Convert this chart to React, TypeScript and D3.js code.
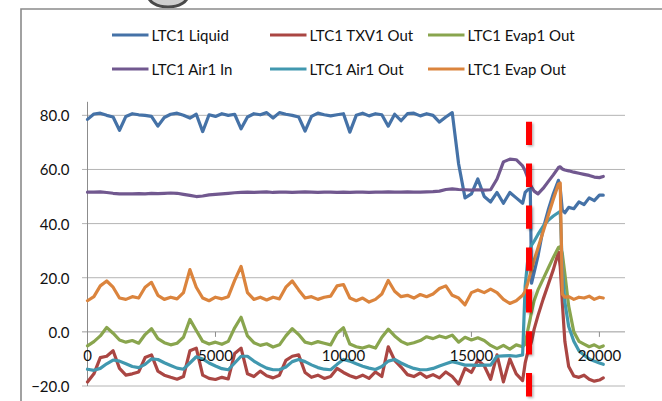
import React from 'react';
import * as d3 from 'd3';

const width = 662;
const height = 401;
const plot = { left: 87.5, right: 625, top: 101.8, bottom: 386 };

// time axis: regular samples then a denser stretch around the event
const baseTime = d3.range(0, 17001, 250);
const tailTime = [17100, 17200, 17300, 17350, 17450, 17600, 17800, 18000, 18200, 18400, 18470,
  18550, 18650, 18800, 19000, 19200, 19400, 19600, 19800, 20000, 20150];
const time = [...baseTime, ...tailTime];

const liquid = [
  78.5, 80.5, 80.8, 80.0, 79.4, 74.5, 79.6, 80.6, 80.2, 80.0,
  79.6, 76.0, 79.2, 80.4, 80.8, 80.0, 79.0, 80.4, 74.0, 80.2,
  79.6, 80.6, 80.0, 80.4, 75.0, 79.4, 80.6, 80.2, 81.0, 79.0,
  81.0, 80.4, 80.0, 79.4, 74.2, 79.6, 80.8, 80.2, 79.8, 80.2,
  80.6, 73.8, 80.0, 80.8, 79.8, 80.6, 80.2, 76.0, 80.4, 78.0,
  80.6, 80.8, 79.8, 80.6, 80.0, 77.5, 79.4, 81.0, 62.0, 49.5,
  51.0, 56.5, 50.0, 48.0, 51.5, 47.5, 51.5, 49.5, 47.5,
  51.5, 52.5, 52.8, 18.0, 22.0, 28.0, 38.0, 45.0, 51.0, 56.0, 53.0,
  45.0, 44.0, 46.0, 45.5, 48.0, 47.0, 49.5, 48.5, 50.5, 50.5,
];
const txv1Out = [
  -18.5, -15.5, -9.5, -9.0, -7.0, -13.5, -16.0, -15.5, -14.8, -9.5,
  -8.5, -14.5, -16.0, -16.8, -17.5, -16.5, -7.0, -6.0, -16.0, -17.2,
  -17.6, -16.8, -17.4, -8.0, -6.0, -15.5, -16.5, -14.5, -16.2, -17.0,
  -16.0, -10.5, -9.0, -8.5, -15.0, -16.8, -16.0, -17.2, -16.5, -13.5,
  -15.0, -16.2, -17.0, -16.0, -17.2, -14.8, -16.5, -5.5, -10.5, -13.0,
  -15.8, -16.5, -15.2, -16.8, -15.8, -17.0, -14.8, -16.5, -19.3, -13.5,
  -15.0, -10.5, -12.5, -17.5, -8.5, -18.5, -10.0, -15.5, -18.0,
  -11.5, -7.5, -5.0, -3.5, 1.0, 6.0, 12.0, 17.5, 23.0, 29.5, 24.0,
  11.0, -3.5, -12.8, -16.3, -16.8, -16.0, -17.5, -18.2, -17.8, -17.0,
];
const evap1Out = [
  -5.2, -3.6, -1.5, 1.6, -0.5, -3.0, -3.8, -3.2, -4.2, -1.0,
  1.2, -2.5, -4.0, -4.8, -4.2, -2.0, 4.6, 0.5, -3.5, -4.5,
  -3.8, -4.6, -3.5, 1.5, 5.4, -1.5, -4.0, -5.0, -4.4, -5.6,
  -4.8, -1.5, 1.2, -1.0, -3.8, -4.4, -3.6, -4.2, -4.8, -0.5,
  1.5, -4.5, -5.5, -6.0, -5.2, -6.0, -2.0, 1.0, -1.5, -3.5,
  -4.6, -4.0, -3.2, -1.8, -2.5, -1.5, -2.2, -1.2, -3.8, -2.0,
  -3.0, -2.2, -3.2, -5.0, -6.2, -5.0, -6.4, -4.8, -5.5,
  -4.5, 0.5, 5.0, 7.5, 11.5, 15.5, 19.5, 23.5, 27.5, 31.2, 31.5,
  29.0, 21.5, 9.5, 0.0, -3.5, -4.5, -5.5, -4.8, -5.8, -5.2,
];
const air1In = [
  51.6, 51.6, 51.7, 51.5, 51.2, 51.0, 51.0, 51.0, 51.1, 51.0,
  51.2, 51.1, 51.2, 51.3, 51.2, 50.8, 50.4, 50.0, 50.2, 50.6,
  50.8, 51.0, 51.2, 51.4, 51.5, 51.6, 51.5, 51.6, 51.7, 51.5,
  51.6, 51.6, 51.5, 51.6, 51.7, 51.6, 51.5, 51.6, 51.6, 51.5,
  51.6, 51.5, 51.6, 51.6, 51.5, 51.6, 51.6, 51.7, 51.6, 51.6,
  51.7, 51.6, 51.6, 51.7, 51.8, 52.0, 52.6, 52.8, 52.6, 52.5,
  52.4, 52.5, 52.4, 52.5, 56.5, 62.8, 63.8, 63.6, 61.3,
  59.5, 57.0, 54.5, 53.5, 52.0, 51.0, 53.0, 55.5, 58.0, 60.7, 61.0,
  60.2, 59.8, 59.5, 59.0, 58.6, 58.2, 57.8, 57.2, 57.0, 57.4,
];
const air1Out = [
  -13.8, -14.2, -13.5, -11.8, -10.4, -10.8, -11.8, -12.8, -13.2, -12.0,
  -10.0, -10.2, -11.4, -12.4, -13.4, -13.8, -11.5, -9.2, -10.0, -11.5,
  -12.6, -13.6, -14.0, -11.5, -9.0, -9.0, -10.8, -12.2, -13.4, -14.0,
  -14.0, -13.0, -11.0, -10.2, -11.0, -12.2, -13.2, -13.8, -14.0, -12.0,
  -10.2, -10.8, -11.8, -12.7, -13.4, -13.9, -12.8, -10.8, -10.2, -11.5,
  -12.6, -13.5, -14.0, -14.0, -13.5, -12.6, -11.8, -11.0, -11.6, -12.3,
  -12.3, -12.4, -12.3, -12.3, -9.0, -8.9, -8.8, -9.0, -8.5,
  17.0, 26.5, 30.5, 32.0, 33.5, 36.0, 39.0, 41.2, 42.8, 44.1, 44.5,
  24.0, 11.0, 2.0, -3.5, -7.0, -8.6, -10.0, -10.8, -11.5, -12.0,
];
const evapOut = [
  11.5, 13.0, 17.0, 18.8, 16.5, 12.5, 12.0, 13.0, 12.5, 16.5,
  18.3, 13.5, 12.0, 12.8, 12.2, 14.5, 23.0, 16.5, 12.5, 11.5,
  12.8, 12.2, 13.0, 19.0, 24.2, 14.5, 12.0, 12.8, 11.8, 12.8,
  12.2, 16.5, 18.8, 15.5, 12.5, 13.0, 12.0, 12.8, 13.2, 17.0,
  17.5, 12.5, 11.5, 12.5, 11.0, 12.0, 14.0, 19.0, 15.0, 13.0,
  13.5, 12.5, 13.8, 13.0, 14.0, 16.0, 17.0, 13.5, 12.5, 10.0,
  14.5, 15.5, 14.5, 15.8, 14.5, 12.0, 10.5, 11.5, 13.5,
  15.0, 18.0, 21.5, 23.0, 26.5, 31.0, 37.0, 43.0, 49.0, 54.6, 55.0,
  14.0, 12.8, 13.0, 12.0, 12.8, 12.5, 13.2, 12.0, 12.8, 12.5,
];

const seriesNames = ['LTC1 Liquid', 'LTC1 TXV1 Out', 'LTC1 Evap1 Out', 'LTC1 Air1 In', 'LTC1 Air1 Out', 'LTC1 Evap Out'];
const seriesValues = [liquid, txv1Out, evap1Out, air1In, air1Out, evapOut];
const colors = ['#4572A7', '#AA4643', '#89A54E', '#71588F', '#4198AF', '#DB843D'];

const yTicks = [-20, 0, 20, 40, 60, 80];
const xTicks = [0, 5000, 10000, 15000, 20000];
const markerTime = 17250;

const font = "Lato, 'DejaVu Sans', sans-serif";

export default function App() {
  const x = d3.scaleLinear().domain([0, 21000]).range([plot.left, plot.right]);
  const y = d3.scaleLinear().domain([-20, 85]).range([plot.bottom, plot.top]);
  const line = d3.line<number>()
    .x((d, i) => x(time[i]))
    .y(d => y(d));
  const fmt = d3.format('.1f');

  return (
    <svg width={width} height={height} style={{ position: 'absolute', left: 0, top: 0, background: '#fff' }}>
      <defs>
        <radialGradient id="halo" cx="50%" cy="0%" r="60%">
          <stop offset="0%" stopColor="#a8a8a8" />
          <stop offset="100%" stopColor="#ffffff" stopOpacity="0" />
        </radialGradient>
        <filter id="shadow" filterUnits="userSpaceOnUse" x={0} y={0} width={width} height={height}>
          <feDropShadow dx="1.5" dy="1.5" stdDeviation="1.2" floodColor="#000" floodOpacity="0.3" />
        </filter>
        <clipPath id="topClip">
          <rect x={0} y={0} width={width} height={8.5} />
        </clipPath>
      </defs>

      {/* bit of an image peeking in above the chart */}
      <g clipPath="url(#topClip)">
        <ellipse cx={178} cy={-6} rx={90} ry={16} fill="url(#halo)" />
        <ellipse cx={168} cy={-5} rx={20} ry={12} fill="#cfcfcf" stroke="#4a4a4a" strokeWidth={3} />
      </g>

      {/* chart frame */}
      <path d={`M21,${height} V9 H${width}`} fill="none" stroke="#8a8a8a" strokeWidth={1.6} />

      {/* legend */}
      {seriesNames.map((name, i) => {
        const lx = 112 + (i % 3) * 158;
        const ly = 35 + Math.floor(i / 3) * 34;
        return (
          <g key={name}>
            <line x1={lx} x2={lx + 36.5} y1={ly} y2={ly} stroke={colors[i]} strokeWidth={3} />
            <text x={lx + 39.5} y={ly} dominantBaseline="central" fontFamily={font} fontSize={15} fill="#111">{name}</text>
          </g>
        );
      })}

      {/* gridlines */}
      {yTicks.map(t => (
        <line key={t} x1={plot.left - 5.5} x2={plot.right} y1={y(t)} y2={y(t)} stroke={t === 0 ? '#9a9a9a' : '#b4b4b4'} strokeWidth={1} />
      ))}
      <line x1={plot.left} x2={plot.left} y1={plot.top} y2={plot.bottom} stroke="#8c8c8c" strokeWidth={1} />
      {xTicks.filter(t => t > 0).map(t => (
        <line key={t} x1={x(t)} x2={x(t)} y1={y(0)} y2={y(0) + 5} stroke="#8c8c8c" strokeWidth={1} />
      ))}

      {/* series */}
      {seriesValues.map((vals, i) => (
        <path key={seriesNames[i]} d={line(vals) || ''} fill="none" stroke={colors[i]} strokeWidth={3.2}
          strokeLinejoin="round" strokeLinecap="round" />
      ))}

      {/* axis labels */}
      {yTicks.map(t => (
        <text key={t} x={69.5} y={y(t)} textAnchor="end" dominantBaseline="central" fontFamily={font} fontSize={15} fill="#111">{fmt(t)}</text>
      ))}
      {xTicks.map(t => (
        <text key={t} x={x(t)} y={y(0) + 23.5} textAnchor="middle" dominantBaseline="central" fontFamily={font} fontSize={15} fill="#111">{t}</text>
      ))}

      {/* event marker */}
      <line x1={x(markerTime)} x2={x(markerTime)} y1={121.7} y2={height} stroke="#ff0000" strokeWidth={6}
        strokeDasharray="23.3 18.6" filter="url(#shadow)" />
    </svg>
  );
}
